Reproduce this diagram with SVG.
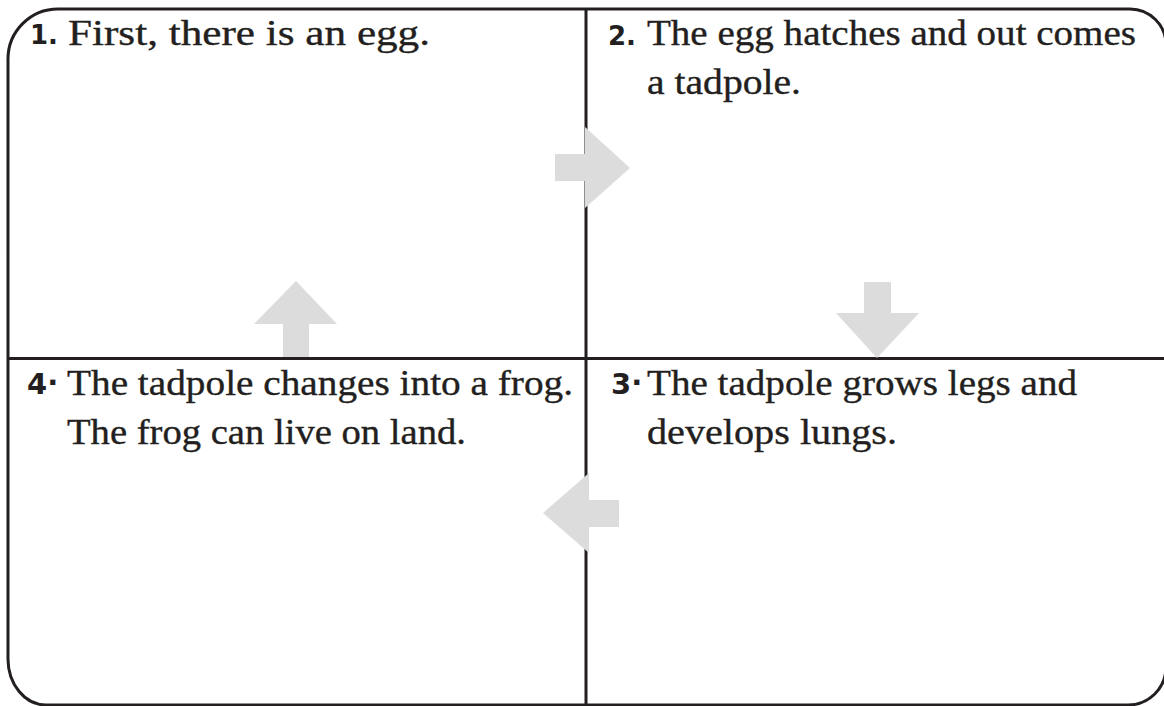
<svg xmlns="http://www.w3.org/2000/svg" width="1164" height="706" viewBox="0 0 1164 706">
<style>
.line{fill:none;stroke:#231f20;stroke-width:3}
.txt{font-family:"Liberation Serif","Times New Roman",serif;font-size:35px;fill:#231f20;stroke:#231f20;stroke-width:0.35}
.num{font-family:"DejaVu Sans","Liberation Sans",sans-serif;font-weight:bold;fill:#231f20}
.arrow{fill:#dcdcdd}
</style>
<rect width="1164" height="706" fill="#ffffff"/>
<g id="frame">
<path class="line" d="M 8,59 A 50,50 0 0 1 58,9 L 1130,9 A 36,36 0 0 1 1166,45 L 1166,668 A 38,38 0 0 1 1128,705 L 46,705 A 38,46 0 0 1 8,659 Z"/>
<line class="line" x1="586" y1="9" x2="586" y2="705"/>
<line class="line" x1="8" y1="358.5" x2="1166" y2="358.5"/>
</g>
<g id="step1">
<text class="num" x="30" y="44" font-size="26">1.</text>
<text class="txt" x="68" y="45" textLength="362" lengthAdjust="spacingAndGlyphs">First, there is an egg.</text>
</g>
<g id="step2">
<text class="num" x="608" y="45" font-size="26">2.</text>
<text class="txt" x="647" y="45" textLength="489" lengthAdjust="spacingAndGlyphs">The egg hatches and out comes</text>
<text class="txt" x="647" y="94" textLength="154" lengthAdjust="spacingAndGlyphs">a tadpole.</text>
</g>
<g id="step3">
<text class="num" x="611" y="394" font-size="29">3<tspan dy="-9">.</tspan></text>
<text class="txt" x="647" y="395" textLength="430" lengthAdjust="spacingAndGlyphs">The tadpole grows legs and</text>
<text class="txt" x="647" y="444" textLength="250" lengthAdjust="spacingAndGlyphs">develops lungs.</text>
</g>
<g id="step4">
<text class="num" x="27" y="394" font-size="29">4<tspan dy="-9">.</tspan></text>
<text class="txt" x="67" y="395" textLength="506" lengthAdjust="spacingAndGlyphs">The tadpole changes into a frog.</text>
<text class="txt" x="67" y="444" textLength="399" lengthAdjust="spacingAndGlyphs">The frog can live on land.</text>
</g>
<g id="connectors">
<polygon class="arrow" points="555,154 585,154 585,127 630,168 585,208 585,181 555,181"/>
<polygon class="arrow" points="864,282 891,282 891,313 919,313 877,358 836,313 864,313"/>
<polygon class="arrow" points="619,500 589,500 589,473 543,513 589,553 589,527 619,527"/>
<polygon class="arrow" points="283,357 283,324 254,324 296,281 337,324 309,324 309,357"/>
</g>
</svg>
